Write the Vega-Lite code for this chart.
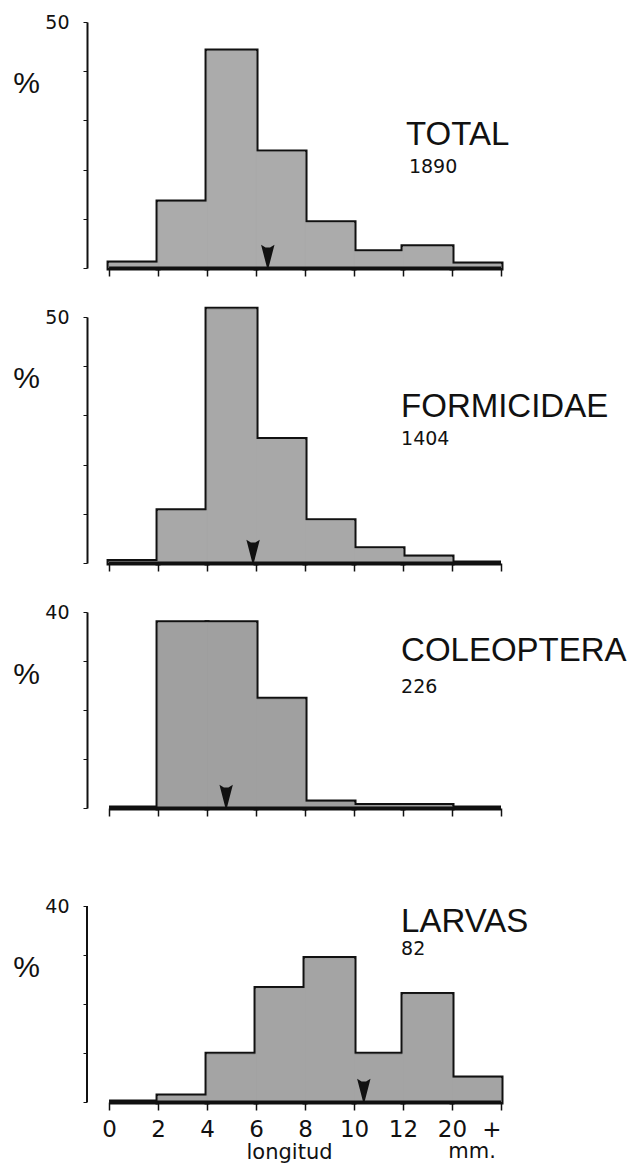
{
  "$schema": "https://vega.github.io/schema/vega-lite/v6.json",
  "background": "white",
  "padding": {"left": 12, "top": 13, "right": 4, "bottom": 4},
  "bounds": "flush",
  "spacing": 49,
  "datasets": {
    "bars": [
      {"panel": "TOTAL", "bin": "0-2", "lo": 0, "hi": 1, "pct": 1.0},
      {"panel": "TOTAL", "bin": "2-4", "lo": 1, "hi": 2, "pct": 13.4},
      {"panel": "TOTAL", "bin": "4-6", "lo": 2, "hi": 3, "pct": 44.1},
      {"panel": "TOTAL", "bin": "6-8", "lo": 3, "hi": 4, "pct": 23.6},
      {"panel": "TOTAL", "bin": "8-10", "lo": 4, "hi": 5, "pct": 9.2},
      {"panel": "TOTAL", "bin": "10-12", "lo": 5, "hi": 6, "pct": 3.3},
      {"panel": "TOTAL", "bin": "12-20", "lo": 6, "hi": 7, "pct": 4.3},
      {"panel": "TOTAL", "bin": "20+", "lo": 7, "hi": 8, "pct": 0.8},
      {"panel": "FORMICIDAE", "bin": "0-2", "lo": 0, "hi": 1, "pct": 0.3},
      {"panel": "FORMICIDAE", "bin": "2-4", "lo": 1, "hi": 2, "pct": 10.6},
      {"panel": "FORMICIDAE", "bin": "4-6", "lo": 2, "hi": 3, "pct": 51.6},
      {"panel": "FORMICIDAE", "bin": "6-8", "lo": 3, "hi": 4, "pct": 25.1},
      {"panel": "FORMICIDAE", "bin": "8-10", "lo": 4, "hi": 5, "pct": 8.6},
      {"panel": "FORMICIDAE", "bin": "10-12", "lo": 5, "hi": 6, "pct": 2.9},
      {"panel": "FORMICIDAE", "bin": "12-20", "lo": 6, "hi": 7, "pct": 1.2},
      {"panel": "FORMICIDAE", "bin": "20+", "lo": 7, "hi": 8, "pct": 0},
      {"panel": "COLEOPTERA", "bin": "0-2", "lo": 0, "hi": 1, "pct": 0},
      {"panel": "COLEOPTERA", "bin": "2-4", "lo": 1, "hi": 2, "pct": 37.8},
      {"panel": "COLEOPTERA", "bin": "4-6", "lo": 2, "hi": 3, "pct": 37.8},
      {"panel": "COLEOPTERA", "bin": "6-8", "lo": 3, "hi": 4, "pct": 22.2},
      {"panel": "COLEOPTERA", "bin": "8-10", "lo": 4, "hi": 5, "pct": 1.2},
      {"panel": "COLEOPTERA", "bin": "10-12", "lo": 5, "hi": 6, "pct": 0.5},
      {"panel": "COLEOPTERA", "bin": "12-20", "lo": 6, "hi": 7, "pct": 0.5},
      {"panel": "COLEOPTERA", "bin": "20+", "lo": 7, "hi": 8, "pct": 0},
      {"panel": "LARVAS", "bin": "0-2", "lo": 0, "hi": 1, "pct": 0},
      {"panel": "LARVAS", "bin": "2-4", "lo": 1, "hi": 2, "pct": 1.22},
      {"panel": "LARVAS", "bin": "4-6", "lo": 2, "hi": 3, "pct": 9.76},
      {"panel": "LARVAS", "bin": "6-8", "lo": 3, "hi": 4, "pct": 23.17},
      {"panel": "LARVAS", "bin": "8-10", "lo": 4, "hi": 5, "pct": 29.27},
      {"panel": "LARVAS", "bin": "10-12", "lo": 5, "hi": 6, "pct": 9.76},
      {"panel": "LARVAS", "bin": "12-20", "lo": 6, "hi": 7, "pct": 21.95},
      {"panel": "LARVAS", "bin": "20+", "lo": 7, "hi": 8, "pct": 4.88}
    ],
    "means": [
      {"panel": "TOTAL", "pos": 3.24},
      {"panel": "FORMICIDAE", "pos": 2.94},
      {"panel": "COLEOPTERA", "pos": 2.39},
      {"panel": "LARVAS", "pos": 5.2}
    ],
    "labels": [
      {"panel": "TOTAL", "name": "TOTAL", "n": "1890"},
      {"panel": "FORMICIDAE", "name": "FORMICIDAE", "n": "1404"},
      {"panel": "COLEOPTERA", "name": "COLEOPTERA", "n": "226"},
      {"panel": "LARVAS", "name": "LARVAS", "n": "82"}
    ]
  },
  "vconcat": [
    {
      "width": 414, "height": 246,
      "layer": [
        {"data": {"name": "bars"}, "transform": [{"filter": "datum.panel === 'TOTAL'"}],
         "mark": {"type": "rect", "fill": "#ababab", "stroke": "#111111", "strokeWidth": 5},
         "encoding": {
           "x": {"field": "lo", "type": "quantitative", "scale": {"domain": [-0.45, 8], "nice": false, "zero": false},
                 "axis": {"values": [0,1,2,3,4,5,6,7,8], "domain": false, "grid": false, "labels": false, "tickSize": 8, "tickWidth": 1.5, "tickColor": "#111111", "title": null}},
           "x2": {"field": "hi"},
           "y": {"field": "pct", "type": "quantitative", "scale": {"domain": [0, 50], "nice": false},
                 "axis": {"values": [0,10,20,30,40,50], "grid": false, "domainColor": "#111111", "domainWidth": 2, "tickColor": "#111111", "tickSize": 4, "tickWidth": 1,
                          "labelExpr": "datum.value == 50 ? '50' : ''", "labelFont": "DejaVu Sans", "labelFontSize": 19, "labelColor": "#111111", "labelPadding": 14,
                          "title": "%", "titleAngle": 0, "titleX": -61, "titleY": 61, "titleAlign": "center", "titleBaseline": "middle", "titleFontSize": 30, "titleFontWeight": "normal", "titleFont": "Liberation Sans", "titleColor": "#111111"}},
           "y2": {"datum": 0}
         }},
        {"data": {"name": "bars"}, "transform": [{"filter": "datum.panel === 'TOTAL'"}],
         "mark": {"type": "rect", "fill": "#ababab", "stroke": "#ababab", "strokeWidth": 1},
         "encoding": {"x": {"field": "lo", "type": "quantitative"}, "x2": {"field": "hi"}, "y": {"field": "pct", "type": "quantitative"}, "y2": {"datum": 0}}},
        {"data": {"values": [{}]}, "mark": {"type": "rule", "color": "#111111", "strokeWidth": 3},
         "encoding": {"x": {"datum": 0}, "x2": {"datum": 8}, "y": {"datum": 0}}},
        {"data": {"name": "means"}, "transform": [{"filter": "datum.panel === 'TOTAL'"}],
         "mark": {"type": "point", "shape": "M-0.6,-1L-0.2,-0.75L0.2,-0.75L0.6,-1L0.08,1L-0.08,1Z", "filled": true, "color": "#111111", "opacity": 1, "size": 500, "yOffset": -12},
         "encoding": {"x": {"field": "pos", "type": "quantitative"}, "y": {"datum": 0}}},
        {"data": {"name": "labels"}, "transform": [{"filter": "datum.panel === 'TOTAL'"}],
         "mark": {"type": "text", "align": "left", "baseline": "alphabetic", "font": "Liberation Sans", "fontSize": 33, "color": "#111111"},
         "encoding": {"text": {"field": "name"}, "x": {"datum": 6.06}, "y": {"datum": 25.0}}},
        {"data": {"name": "labels"}, "transform": [{"filter": "datum.panel === 'TOTAL'"}],
         "mark": {"type": "text", "align": "left", "baseline": "alphabetic", "font": "DejaVu Sans", "fontSize": 19, "color": "#111111"},
         "encoding": {"text": {"field": "n"}, "x": {"datum": 6.12}, "y": {"datum": 19.3}}}
      ]
    },
    {
      "width": 414, "height": 246,
      "layer": [
        {"data": {"name": "bars"}, "transform": [{"filter": "datum.panel === 'FORMICIDAE'"}],
         "mark": {"type": "rect", "fill": "#a8a8a8", "stroke": "#111111", "strokeWidth": 5},
         "encoding": {
           "x": {"field": "lo", "type": "quantitative", "scale": {"domain": [-0.45, 8], "nice": false, "zero": false},
                 "axis": {"values": [0,1,2,3,4,5,6,7,8], "domain": false, "grid": false, "labels": false, "tickSize": 8, "tickWidth": 1.5, "tickColor": "#111111", "title": null}},
           "x2": {"field": "hi"},
           "y": {"field": "pct", "type": "quantitative", "scale": {"domain": [0, 50], "nice": false},
                 "axis": {"values": [0,10,20,30,40,50], "grid": false, "domainColor": "#111111", "domainWidth": 2, "tickColor": "#111111", "tickSize": 4, "tickWidth": 1,
                          "labelExpr": "datum.value == 50 ? '50' : ''", "labelFont": "DejaVu Sans", "labelFontSize": 19, "labelColor": "#111111", "labelPadding": 14,
                          "title": "%", "titleAngle": 0, "titleX": -61, "titleY": 61, "titleAlign": "center", "titleBaseline": "middle", "titleFontSize": 30, "titleFontWeight": "normal", "titleFont": "Liberation Sans", "titleColor": "#111111"}},
           "y2": {"datum": 0}
         }},
        {"data": {"name": "bars"}, "transform": [{"filter": "datum.panel === 'FORMICIDAE'"}],
         "mark": {"type": "rect", "fill": "#a8a8a8", "stroke": "#a8a8a8", "strokeWidth": 1},
         "encoding": {"x": {"field": "lo", "type": "quantitative"}, "x2": {"field": "hi"}, "y": {"field": "pct", "type": "quantitative"}, "y2": {"datum": 0}}},
        {"data": {"values": [{}]}, "mark": {"type": "rule", "color": "#111111", "strokeWidth": 3},
         "encoding": {"x": {"datum": 0}, "x2": {"datum": 8}, "y": {"datum": 0}}},
        {"data": {"name": "means"}, "transform": [{"filter": "datum.panel === 'FORMICIDAE'"}],
         "mark": {"type": "point", "shape": "M-0.6,-1L-0.2,-0.75L0.2,-0.75L0.6,-1L0.08,1L-0.08,1Z", "filled": true, "color": "#111111", "opacity": 1, "size": 500, "yOffset": -12},
         "encoding": {"x": {"field": "pos", "type": "quantitative"}, "y": {"datum": 0}}},
        {"data": {"name": "labels"}, "transform": [{"filter": "datum.panel === 'FORMICIDAE'"}],
         "mark": {"type": "text", "align": "left", "baseline": "alphabetic", "font": "Liberation Sans", "fontSize": 33, "color": "#111111"},
         "encoding": {"text": {"field": "name"}, "x": {"datum": 5.96}, "y": {"datum": 29.6}}},
        {"data": {"name": "labels"}, "transform": [{"filter": "datum.panel === 'FORMICIDAE'"}],
         "mark": {"type": "text", "align": "left", "baseline": "alphabetic", "font": "DejaVu Sans", "fontSize": 19, "color": "#111111"},
         "encoding": {"text": {"field": "n"}, "x": {"datum": 5.96}, "y": {"datum": 23.9}}}
      ]
    },
    {
      "width": 414, "height": 196,
      "layer": [
        {"data": {"name": "bars"}, "transform": [{"filter": "datum.panel === 'COLEOPTERA'"}],
         "mark": {"type": "rect", "fill": "#a0a0a0", "stroke": "#111111", "strokeWidth": 5},
         "encoding": {
           "x": {"field": "lo", "type": "quantitative", "scale": {"domain": [-0.45, 8], "nice": false, "zero": false},
                 "axis": {"values": [0,1,2,3,4,5,6,7,8], "domain": false, "grid": false, "labels": false, "tickSize": 8, "tickWidth": 1.5, "tickColor": "#111111", "title": null}},
           "x2": {"field": "hi"},
           "y": {"field": "pct", "type": "quantitative", "scale": {"domain": [0, 40], "nice": false},
                 "axis": {"values": [0,10,20,30,40], "grid": false, "domainColor": "#111111", "domainWidth": 2, "tickColor": "#111111", "tickSize": 4, "tickWidth": 1,
                          "labelExpr": "datum.value == 40 ? '40' : ''", "labelFont": "DejaVu Sans", "labelFontSize": 19, "labelColor": "#111111", "labelPadding": 14,
                          "title": "%", "titleAngle": 0, "titleX": -61, "titleY": 62, "titleAlign": "center", "titleBaseline": "middle", "titleFontSize": 30, "titleFontWeight": "normal", "titleFont": "Liberation Sans", "titleColor": "#111111"}},
           "y2": {"datum": 0}
         }},
        {"data": {"name": "bars"}, "transform": [{"filter": "datum.panel === 'COLEOPTERA'"}],
         "mark": {"type": "rect", "fill": "#a0a0a0", "stroke": "#a0a0a0", "strokeWidth": 1},
         "encoding": {"x": {"field": "lo", "type": "quantitative"}, "x2": {"field": "hi"}, "y": {"field": "pct", "type": "quantitative"}, "y2": {"datum": 0}}},
        {"data": {"values": [{}]}, "mark": {"type": "rule", "color": "#111111", "strokeWidth": 3},
         "encoding": {"x": {"datum": 0}, "x2": {"datum": 8}, "y": {"datum": 0}}},
        {"data": {"name": "means"}, "transform": [{"filter": "datum.panel === 'COLEOPTERA'"}],
         "mark": {"type": "point", "shape": "M-0.6,-1L-0.2,-0.75L0.2,-0.75L0.6,-1L0.08,1L-0.08,1Z", "filled": true, "color": "#111111", "opacity": 1, "size": 500, "yOffset": -12},
         "encoding": {"x": {"field": "pos", "type": "quantitative"}, "y": {"datum": 0}}},
        {"data": {"name": "labels"}, "transform": [{"filter": "datum.panel === 'COLEOPTERA'"}],
         "mark": {"type": "text", "align": "left", "baseline": "alphabetic", "font": "Liberation Sans", "fontSize": 33, "color": "#111111"},
         "encoding": {"text": {"field": "name"}, "x": {"datum": 5.96}, "y": {"datum": 30.0}}},
        {"data": {"name": "labels"}, "transform": [{"filter": "datum.panel === 'COLEOPTERA'"}],
         "mark": {"type": "text", "align": "left", "baseline": "alphabetic", "font": "DejaVu Sans", "fontSize": 19, "color": "#111111"},
         "encoding": {"text": {"field": "n"}, "x": {"datum": 5.96}, "y": {"datum": 23.5}}}
      ]
    },
    {
      "width": 414, "height": 245,
      "layer": [
        {"data": {"name": "bars"}, "transform": [{"filter": "datum.panel === 'LARVAS'"}],
         "mark": {"type": "rect", "fill": "#a4a4a4", "stroke": "#111111", "strokeWidth": 5},
         "encoding": {
           "x": {"field": "lo", "type": "quantitative", "scale": {"domain": [-0.45, 8], "nice": false, "zero": false},
                 "axis": {"values": [0,1,2,3,4,5,6,7,8], "domain": false, "grid": false, "tickSize": 8, "tickWidth": 1.5, "tickColor": "#111111",
                          "labelExpr": "['0','2','4','6','8','10','12','20','+'][datum.value]", "labelFont": "DejaVu Sans", "labelFontSize": 23, "labelColor": "#111111", "labelPadding": 8,
                          "title": "longitud", "titleX": 202, "titleY": 56, "titleAlign": "center", "titleBaseline": "alphabetic", "titleFont": "DejaVu Sans", "titleFontSize": 21, "titleFontWeight": "normal", "titleColor": "#111111"}},
           "x2": {"field": "hi"},
           "y": {"field": "pct", "type": "quantitative", "scale": {"domain": [0, 50], "nice": false},
                 "axis": {"values": [0,10,20,30,40], "grid": false, "domain": false, "tickColor": "#111111", "tickSize": 4, "tickWidth": 1,
                          "labelExpr": "datum.value == 40 ? '40' : ''", "labelFont": "DejaVu Sans", "labelFontSize": 19, "labelColor": "#111111", "labelPadding": 14,
                          "title": "%", "titleAngle": 0, "titleX": -61, "titleY": 110, "titleAlign": "center", "titleBaseline": "middle", "titleFontSize": 30, "titleFontWeight": "normal", "titleFont": "Liberation Sans", "titleColor": "#111111"}},
           "y2": {"datum": 0}
         }},
        {"data": {"name": "bars"}, "transform": [{"filter": "datum.panel === 'LARVAS'"}],
         "mark": {"type": "rect", "fill": "#a4a4a4", "stroke": "#a4a4a4", "strokeWidth": 1},
         "encoding": {"x": {"field": "lo", "type": "quantitative"}, "x2": {"field": "hi"}, "y": {"field": "pct", "type": "quantitative"}, "y2": {"datum": 0}}},
        {"data": {"values": [{}]}, "mark": {"type": "rule", "color": "#111111", "strokeWidth": 2},
         "encoding": {"x": {"datum": -0.45}, "y": {"datum": 0}, "y2": {"datum": 40}}},
        {"data": {"values": [{}]}, "mark": {"type": "rule", "color": "#111111", "strokeWidth": 3},
         "encoding": {"x": {"datum": 0}, "x2": {"datum": 8}, "y": {"datum": 0}}},
        {"data": {"name": "means"}, "transform": [{"filter": "datum.panel === 'LARVAS'"}],
         "mark": {"type": "point", "shape": "M-0.6,-1L-0.2,-0.75L0.2,-0.75L0.6,-1L0.08,1L-0.08,1Z", "filled": true, "color": "#111111", "opacity": 1, "size": 500, "yOffset": -12},
         "encoding": {"x": {"field": "pos", "type": "quantitative"}, "y": {"datum": 0}}},
        {"data": {"name": "labels"}, "transform": [{"filter": "datum.panel === 'LARVAS'"}],
         "mark": {"type": "text", "align": "left", "baseline": "alphabetic", "font": "Liberation Sans", "fontSize": 33, "color": "#111111"},
         "encoding": {"text": {"field": "name"}, "x": {"datum": 5.96}, "y": {"datum": 34.7}}},
        {"data": {"name": "labels"}, "transform": [{"filter": "datum.panel === 'LARVAS'"}],
         "mark": {"type": "text", "align": "left", "baseline": "alphabetic", "font": "DejaVu Sans", "fontSize": 19, "color": "#111111"},
         "encoding": {"text": {"field": "n"}, "x": {"datum": 5.96}, "y": {"datum": 30.0}}},
        {"data": {"values": [{}]},
         "mark": {"type": "text", "text": "mm.", "align": "center", "baseline": "alphabetic", "font": "DejaVu Sans", "fontSize": 21, "color": "#111111"},
         "encoding": {"x": {"datum": 7.41}, "y": {"datum": -11.4}}}
      ]
    }
  ],
  "config": {"view": {"stroke": null}, "font": "Liberation Sans"}
}
